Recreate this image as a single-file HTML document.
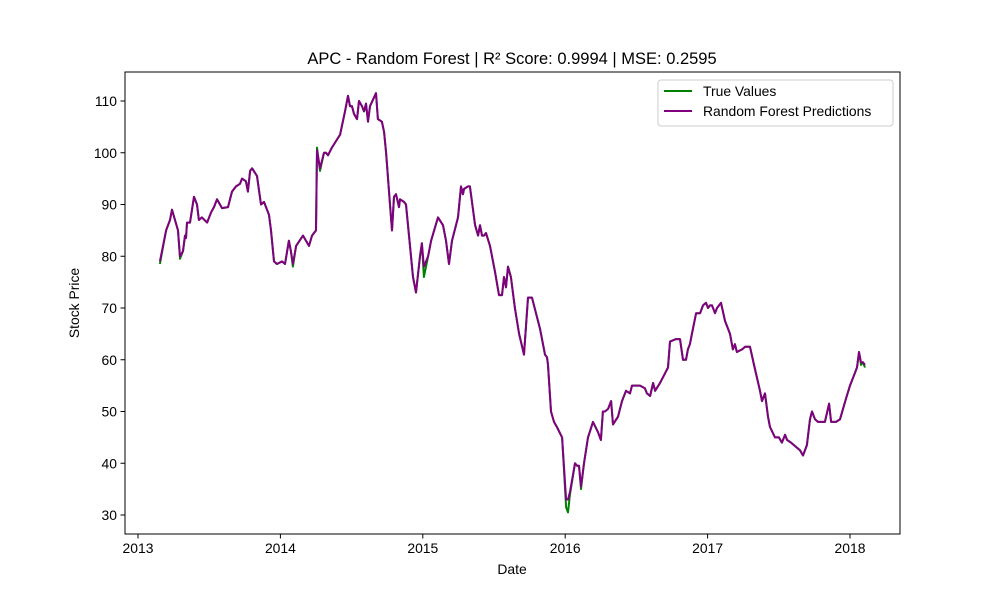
<!DOCTYPE html>
<html><head><meta charset="utf-8"><style>
body{margin:0;background:#fff;}
svg text{font-family:"Liberation Sans","DejaVu Sans",sans-serif;fill:#000;}
</style></head><body>
<svg id="chart" width="1000" height="600" xmlns="http://www.w3.org/2000/svg">
<rect width="1000" height="600" fill="#fff"/>
<text x="512" y="64" font-size="16.5" text-anchor="middle">APC - Random Forest | R² Score: 0.9994 | MSE: 0.2595</text>
<g id="xticks"></g>
<g id="yticks"></g>
<g id="series"></g>
<rect x="125" y="72" width="775" height="462" fill="none" stroke="#000" stroke-width="1"/>
<text x="512" y="574" font-size="13.9" text-anchor="middle">Date</text>
<text transform="translate(79,303) rotate(-90)" font-size="13.9" text-anchor="middle">Stock Price</text>
<g>
<rect x="658" y="80" width="235" height="46" rx="3" fill="#fff" stroke="#ccc"/>
<line x1="664" y1="91" x2="692" y2="91" stroke="green" stroke-width="2"/>
<text x="703" y="96" font-size="13.9">True Values</text>
<line x1="664" y1="111" x2="692" y2="111" stroke="purple" stroke-width="2"/>
<text x="703" y="116" font-size="13.9">Random Forest Predictions</text>
</g>
</svg>
<script>
const dateOffsets=[.154,.197,.225,.239,.281,.295,.316,.330,.337,.344,.365,.393,.414,.428,.449,.485,.513,.534,.555,.590,.632,.660,.688,.716,.730,.758,.772,.787,.801,.836,.864,.885,.920,.934,.955,.976,1.011,1.032,1.060,1.074,1.088,1.110,1.159,1.201,1.222,1.250,1.257,1.278,1.306,1.320,1.334,1.362,1.419,1.454,1.475,1.489,1.503,1.517,1.538,1.552,1.573,1.587,1.601,1.615,1.629,1.671,1.685,1.713,1.728,1.742,1.770,1.784,1.798,1.812,1.833,1.840,1.868,1.882,1.917,1.931,1.952,1.980,1.994,2.008,2.037,2.058,2.107,2.142,2.163,2.184,2.205,2.247,2.268,2.282,2.289,2.317,2.331,2.367,2.388,2.402,2.416,2.430,2.444,2.472,2.507,2.535,2.556,2.570,2.584,2.598,2.619,2.647,2.676,2.711,2.739,2.767,2.795,2.823,2.858,2.872,2.879,2.900,2.921,2.942,2.978,3.006,3.020,3.034,3.069,3.083,3.097,3.111,3.132,3.160,3.195,3.230,3.251,3.265,3.279,3.301,3.322,3.336,3.371,3.399,3.427,3.455,3.469,3.525,3.560,3.574,3.596,3.617,3.631,3.666,3.694,3.722,3.736,3.778,3.806,3.827,3.848,3.862,3.876,3.890,3.919,3.947,3.968,3.989,4.003,4.017,4.031,4.052,4.066,4.094,4.122,4.157,4.178,4.192,4.206,4.242,4.263,4.298,4.326,4.368,4.382,4.403,4.424,4.438,4.473,4.501,4.522,4.544,4.558,4.586,4.628,4.649,4.670,4.697,4.719,4.733,4.754,4.775,4.803,4.824,4.853,4.867,4.881,4.902,4.930,4.972,5.000,5.028,5.049,5.063,5.077,5.091,5.105];
const trueValues=[78.5,85,87,89,85,79.5,81,84,83.5,86.5,86.5,91.5,90,87,87.5,86.5,88.5,89.5,91,89.3,89.5,92.5,93.5,94,95,94.5,92.5,96.5,97,95.5,90,90.5,88,85,79,78.5,79,78.5,83,81,78,82,84,82,84,85,101,96.5,100,100,99.5,101,103.5,108,111,109,109,107.5,106.5,110,109,108,109.5,106,109,111.5,106.5,106,104,100,90,85,91.5,92,89.5,91,90.5,90,80,76,73,80,82.5,76,80,83,87.5,86,83,78.5,83,87.5,93.5,92,93,93.5,93.5,86,84,86,84,84,84.5,82,77,72.5,72.5,76,74,78,76,70,65,61,72,72,69,66,61,60.5,59,50,48,47,45,31.5,30.5,34,40,39.5,39.5,35,40,45,48,46,44.5,50,50,50.5,52,47.5,49,52,54,53.5,55,55,54.5,53.5,53,55.5,54,55.5,57,58.5,63.5,64,64,60,60,62,63,65,69,69,70.5,71,70,70.5,70.5,69,70,71,67.5,65,62,63,61.5,62,62.5,62.5,59,54,52,53.5,49,47,45,45,44,45.5,44.5,44,43,42.5,41.5,43.5,48.5,50,48.5,48,48,48,51.5,48,48,48,48.5,52.5,55,57,58.5,61.5,59,59.5,58.5];
const predValues=[79,85,87,89,85,80,81,84,83.5,86.5,86.5,91.5,90,87,87.5,86.5,88.5,89.5,91,89.3,89.5,92.5,93.5,94,95,94.5,92.5,96.5,97,95.5,90,90.5,88,85,79,78.5,79,78.5,83,81,78.5,82,84,82,84,85,100.5,97,100,100,99.5,101,103.5,108,111,109,109,107.5,106.5,110,109,108,109.5,106,109,111.5,106.5,106,104,100,90,85,91.5,92,89.5,91,90.5,90,80,76,73,80,82.5,78,80,83,87.5,86,83,78.5,83,87.5,93.5,92,93,93.5,93.5,86,84,86,84,84,84.5,82,77,72.5,72.5,76,74,78,76,70,65,61,72,72,69,66,61,60.5,59,50,48,47,45,33,33,34.5,40,39.5,39.5,35.5,40,45,48,46,44.5,50,50,50.5,52,47.5,49,52,54,53.5,55,55,54.5,53.5,53,55.5,54,55.5,57,58.5,63.5,64,64,60,60,62,63,65,69,69,70.5,71,70,70.5,70.5,69,70,71,67.5,65,62,63,61.5,62,62.5,62.5,59,54,52,53.5,49,47,45,45,44,45.5,44.5,44,43,42.5,41.5,43.5,48.5,50,48.5,48,48,48,51.5,48,48,48,48.5,52.5,55,57,58.5,61.5,59.5,59.5,59];
const baseYear=2013;
const xTickLabels=["2013","2014","2015","2016","2017","2018"];
const yTickLabels=[30,40,50,60,70,80,90,100,110];

const NS="http://www.w3.org/2000/svg";
function xScale(y){return 138+(y-2013)*142.4;}
function yScale(v){return 515-(v-30)*5.175;}
function mk(tag,attrs,parent){const e=document.createElementNS(NS,tag);for(const k in attrs)e.setAttribute(k,attrs[k]);parent.appendChild(e);return e;}
const xg=document.getElementById('xticks'),yg=document.getElementById('yticks'),sg=document.getElementById('series');
xTickLabels.forEach(l=>{const x=xScale(+l);
 const t=mk('line',{x1:x,x2:x,y1:534,y2:538.5,stroke:'#000'},xg);
 
 
 const tx=mk('text',{x:x,y:553,'font-size':13.9,'text-anchor':'middle'},xg);tx.textContent=l;
 
 });
yTickLabels.forEach(v=>{const y=yScale(v);
 const t=mk('line',{x1:120.5,x2:125,y1:y,y2:y,stroke:'#000'},yg);
 
 
 const tx=mk('text',{x:117,y:y+5,'font-size':13.9,'text-anchor':'end'},yg);tx.textContent=v;
 
 });
function pts(vals){return vals.map((v,i)=>xScale(baseYear+dateOffsets[i]).toFixed(1)+','+yScale(v).toFixed(1)).join(' ');}
const l1=mk('polyline',{points:pts(trueValues),fill:'none',stroke:'green','stroke-width':2,'stroke-linejoin':'round'},sg);


const l2=mk('polyline',{points:pts(predValues),fill:'none',stroke:'purple','stroke-width':2,'stroke-linejoin':'round'},sg);


</script>
</body></html>
